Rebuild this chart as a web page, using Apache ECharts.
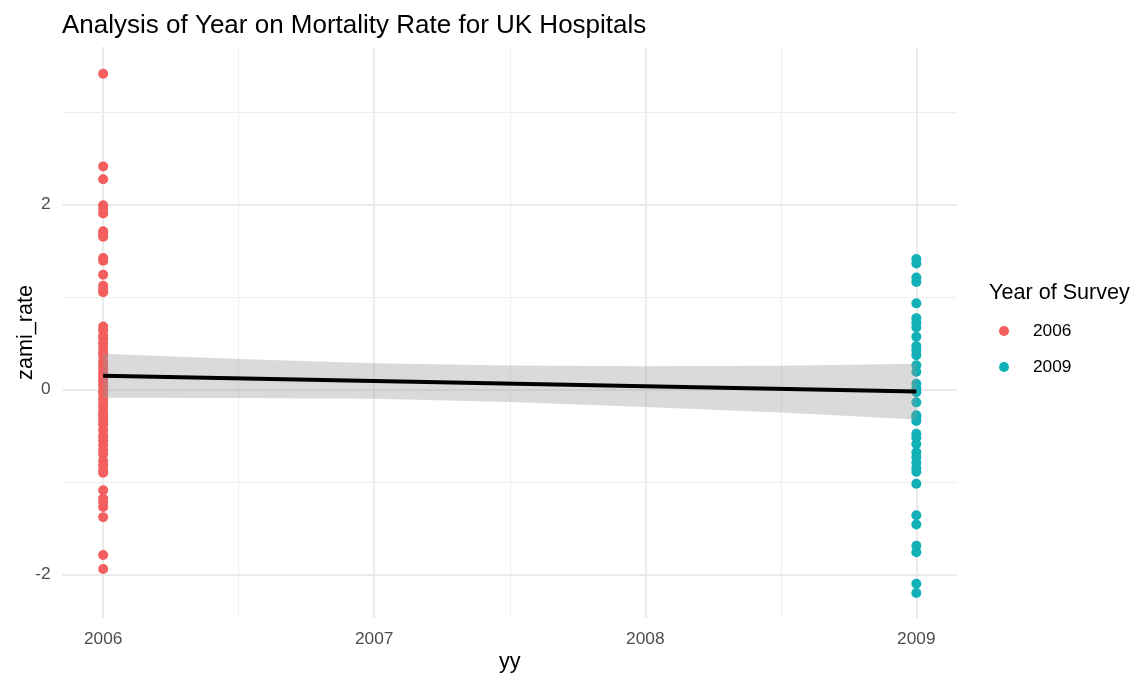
<!DOCTYPE html>
<html>
<head>
<meta charset="utf-8">
<script src="https://cdn.jsdelivr.net/npm/echarts@6/dist/echarts.min.js"></script>
<style>
  html, body { margin: 0; padding: 0; background: #ffffff; }
  #chart { width: 1138px; height: 675px; }
</style>
</head>
<body>
<div id="chart"></div>
<script>
// Standardised AMI mortality rate per hospital, by survey year
const rate2006 = [3.41, 2.41, 2.27, 1.99, 1.95, 1.90, 1.71, 1.68, 1.65, 1.42,
  1.39, 1.24, 1.12, 1.08, 1.05, 0.68, 0.64, 0.58, 0.55, 0.50,
  0.45, 0.40, 0.36, 0.30, 0.26, 0.22, 0.18, 0.14, 0.10, 0.06,
  0.03, -0.02, -0.05, -0.10, -0.15, -0.19, -0.24, -0.27, -0.30, -0.34,
  -0.38, -0.44, -0.50, -0.55, -0.60, -0.66, -0.70, -0.77, -0.82, -0.87,
  -0.90, -1.09, -1.18, -1.22, -1.27, -1.38, -1.79, -1.94];
const rate2009 = [1.41, 1.36, 1.21, 1.16, 0.93, 0.77, 0.72, 0.67, 0.57, 0.47,
  0.42, 0.37, 0.26, 0.19, 0.06, 0.01, -0.03, -0.14, -0.28, -0.30,
  -0.34, -0.48, -0.52, -0.59, -0.68, -0.73, -0.79, -0.85, -0.89, -1.02,
  -1.36, -1.46, -1.69, -1.76, -2.10, -2.20];

// Linear fit and its 95% confidence band
const fitX = [2006, 2009];
const fitY = [0.148, -0.022];
const bandX = [2006, 2006.5, 2007, 2007.5, 2008, 2008.5, 2009];
const bandUpper = [0.385, 0.330, 0.284, 0.259, 0.249, 0.255, 0.277];
const bandLower = [-0.090, -0.092, -0.101, -0.137, -0.191, -0.250, -0.324];

// Axis ticks and grid lines
const xTicks = [2006, 2007, 2008, 2009];
const xMinor = [2006.5, 2007.5, 2008.5];
const yTicks = [-2, 0, 2];
const yMinor = [-1, 1, 3];

const groups = ['2006', '2009'];
const colors = ['#F35E5E', '#12B0B7'];
const font = 'Liberation Sans, Arial, Helvetica, sans-serif';

const chart = echarts.init(document.getElementById('chart'), null, { renderer: 'canvas' });

const major = { color: '#EBEBEB', width: 2, type: 'solid' };
const minor = { color: '#EEEEEE', width: 1, type: 'solid' };
const gridLines = [];
xTicks.forEach(v => gridLines.push({ xAxis: v, lineStyle: major }));
xMinor.forEach(v => gridLines.push({ xAxis: v, lineStyle: minor }));
yTicks.forEach(v => gridLines.push({ yAxis: v, lineStyle: major }));
yMinor.forEach(v => gridLines.push({ yAxis: v, lineStyle: minor }));

chart.setOption({
  animation: false,
  backgroundColor: '#ffffff',
  title: {
    text: 'Analysis of Year on Mortality Rate for UK Hospitals',
    left: 57, top: 8,
    textStyle: { fontFamily: font, fontSize: 26, fontWeight: 'normal', color: '#000000' }
  },
  graphic: [{
    type: 'text', left: 989, top: 282,
    style: { text: 'Year of Survey', font: '21.6px ' + font, fill: '#000000' }
  }],
  legend: {
    data: groups,
    orient: 'vertical',
    left: 994, top: 317,
    itemWidth: 22, itemHeight: 10, itemGap: 18,
    icon: 'circle',
    textStyle: { fontFamily: font, fontSize: 17.3, color: '#000000', lineHeight: 18, padding: [0, 0, 0, 13] }
  },
  grid: { left: 62.5, right: 181, top: 47, bottom: 57, containLabel: false, outerBoundsMode: 'none' },
  xAxis: {
    type: 'value',
    min: 2005.85, max: 2009.15,
    name: 'yy', nameLocation: 'middle', nameGap: 33, nameMoveOverlap: false,
    nameTextStyle: { fontFamily: font, fontSize: 21.6, color: '#000000' },
    axisLine: { show: false }, axisTick: { show: false }, splitLine: { show: false },
    axisLabel: {
      customValues: xTicks, margin: 13,
      fontFamily: font, fontSize: 17.3, color: '#4D4D4D',
      formatter: v => String(Math.round(v))
    }
  },
  yAxis: {
    type: 'value',
    min: -2.47, max: 3.70,
    name: 'zami_rate', nameLocation: 'middle', nameGap: 25, nameRotate: 90, nameMoveOverlap: false,
    nameTextStyle: { fontFamily: font, fontSize: 21.6, color: '#000000' },
    axisLine: { show: false }, axisTick: { show: false }, splitLine: { show: false },
    axisLabel: {
      customValues: yTicks, margin: 12,
      fontFamily: font, fontSize: 17.3, color: '#4D4D4D',
      formatter: v => String(Math.round(v))
    }
  },
  series: [
    {
      name: 'grid', type: 'line', data: [], z: 0, silent: true,
      markLine: { z: 0, silent: true, symbol: ['none', 'none'], label: { show: false }, animation: false, data: gridLines }
    },
    {
      name: groups[0], type: 'scatter', z: 2,
      symbolSize: 10, itemStyle: { color: colors[0], opacity: 1 },
      data: rate2006.map(v => [2006, v])
    },
    {
      name: groups[1], type: 'scatter', z: 2,
      symbolSize: 10, itemStyle: { color: colors[1], opacity: 1 },
      data: rate2009.map(v => [2009, v])
    },
    {
      name: 'band', type: 'custom', z: 3, silent: true,
      data: [[bandX[0], bandLower[0]]],
      renderItem: function (params, api) {
        const pts = [];
        for (let i = 0; i < bandX.length; i++) pts.push(api.coord([bandX[i], bandUpper[i]]));
        for (let i = bandX.length - 1; i >= 0; i--) pts.push(api.coord([bandX[i], bandLower[i]]));
        return { type: 'polygon', shape: { points: pts }, style: { fill: 'rgba(153,153,153,0.36)' } };
      }
    },
    {
      name: 'fit', type: 'line', z: 4, silent: true,
      symbol: 'none', lineStyle: { color: '#000000', width: 4 },
      data: fitX.map((x, i) => [x, fitY[i]])
    }
  ]
});
</script>
</body>
</html>
